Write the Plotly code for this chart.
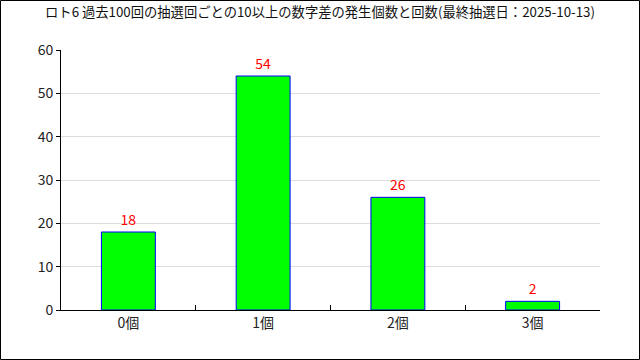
import plotly.graph_objects as go

categories = ["0個", "1個", "2個", "3個"]
counts = [18, 54, 26, 2]
title_text = "ロト6 過去100回の抽選回ごとの10以上の数字差の発生個数と回数(最終抽選日：2025-10-13)"

W, H = 640, 360
L, R, T, B = 61, 40, 50, 50
pw, ph = W - L - R, H - T - B

fig = go.Figure(go.Bar(
    x=categories, y=counts, width=0.4,
    marker=dict(color="#00ff00", line=dict(color="#0000ff", width=1)),
    text=[str(v) for v in counts], textposition="outside",
    textfont=dict(color="#ff0000", size=14, family="Noto Sans CJK JP"),
    cliponaxis=False,
))

fig.update_layout(
    width=W, height=H,
    margin=dict(l=L, r=R, t=T, b=B),
    paper_bgcolor="white", plot_bgcolor="white",
    font=dict(family="Noto Sans CJK JP", size=14, color="#222222"),
    title=dict(text=title_text, x=0.5, xanchor="center", y=1 - 12/H, yanchor="middle",
               font=dict(size=13.3, color="#111111")),
    showlegend=False,
    bargap=0.6,
    shapes=[dict(type="rect", xref="paper", yref="paper",
                 x0=(0.5 - L)/pw, x1=(W - 0.5 - L)/pw,
                 y0=(H - B - (H - 0.5))/ph, y1=(H - B - 0.5)/ph,
                 line=dict(color="black", width=1), fillcolor="rgba(0,0,0,0)")],
)
fig.update_xaxes(showline=True, linecolor="black", linewidth=1,
                 ticks="inside", tickson="boundaries", ticklen=5, tickcolor="black",
                 showgrid=False, mirror=False)
fig.update_yaxes(range=[0, 60], dtick=10, showline=True, linecolor="black", linewidth=1,
                 ticks="outside", ticklen=4, tickcolor="black",
                 showgrid=True, gridcolor="#dddddd", zeroline=False)

fig.write_html("out.html")
